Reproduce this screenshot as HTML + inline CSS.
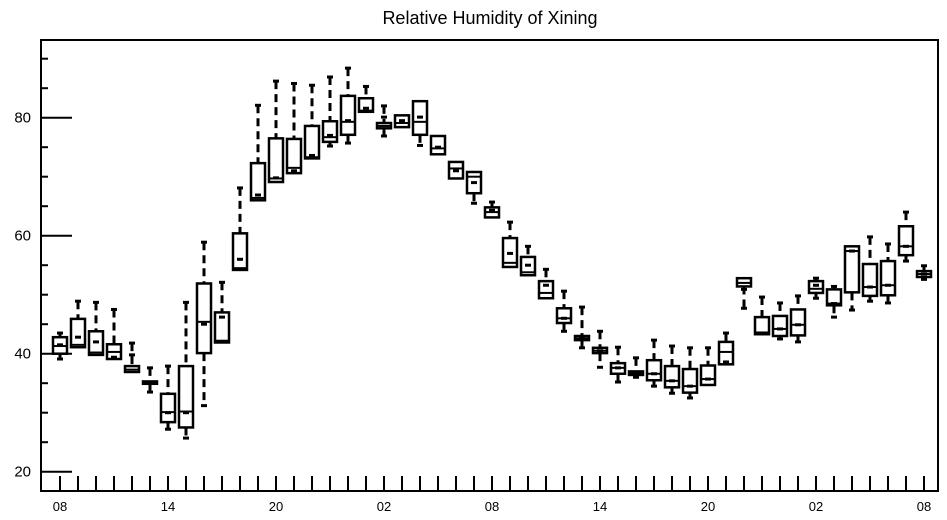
<!DOCTYPE html>
<html><head><meta charset="utf-8"><style>body{margin:0;background:#fff}svg{display:block}</style></head>
<body>
<svg id="chart" width="947" height="520" xmlns="http://www.w3.org/2000/svg" font-family="Liberation Sans, sans-serif">
<text x="490" y="24" text-anchor="middle" font-size="18">Relative Humidity of Xining</text>
<rect x="41" y="40" width="897" height="451" fill="none" stroke="#000" stroke-width="2"/>
<g id="axes"></g><g id="boxes"></g>
</svg>
<script>
const hourLabels=["08","14","20","02","08","14","20","02","08"];
const yTicks=[20,40,60,80];
const lows=[39.1,41.1,39.8,39.1,36.9,33.5,27.2,25.7,31.2,41.9,54.2,66.0,69.1,70.6,73.1,75.2,75.7,81.0,76.9,78.4,75.3,73.8,69.7,65.5,63.1,54.7,53.3,49.4,43.8,41.0,37.7,35.2,36.0,34.5,33.3,32.5,34.7,38.2,47.7,43.3,42.5,42.0,49.4,46.2,47.4,48.9,48.6,55.7,52.6];
const q1s=[40.0,41.1,39.8,39.1,36.9,34.9,28.4,27.5,40.1,41.9,54.2,66.0,69.1,70.6,73.1,75.9,77.1,81.0,78.2,78.4,77.1,73.8,69.7,67.2,63.1,54.7,53.3,49.4,45.2,42.3,40.1,36.6,36.4,35.5,34.3,33.4,34.7,38.2,51.4,43.3,43.0,43.1,50.3,48.2,50.4,49.8,49.9,56.7,53.0];
const medians=[41.3,41.5,40.2,40.3,37.3,35.1,30.1,30.2,45.4,42.2,54.5,66.4,69.7,71.5,73.3,76.7,79.3,81.2,78.6,79.1,79.3,74.8,71.4,70.0,64.0,55.4,53.8,50.3,46.0,42.6,40.5,37.6,36.7,36.6,35.4,34.5,35.7,40.3,52.0,43.6,44.2,44.9,51.0,48.5,57.4,51.3,51.6,58.2,53.5];
const q3s=[42.8,45.9,43.8,41.6,37.9,35.3,33.2,37.9,51.9,47.0,60.4,72.3,76.5,76.4,78.6,79.4,83.7,83.3,79.1,80.4,82.8,76.9,72.5,70.8,64.8,59.6,56.4,52.3,47.7,43.0,41.0,38.4,37.0,38.9,37.9,37.4,38.0,42.0,52.8,46.2,46.4,47.5,52.3,50.9,58.2,55.2,55.7,61.6,54.0];
const highs=[43.5,48.9,48.7,47.5,41.8,37.6,37.9,48.7,58.9,52.1,68.1,82.1,86.2,85.8,85.5,86.9,88.4,85.3,82.0,80.4,82.8,76.9,72.5,70.8,65.7,62.3,58.2,54.3,50.6,47.9,43.8,41.1,39.3,42.3,41.3,41.0,41.0,43.5,52.8,49.6,48.6,49.8,52.8,51.4,58.2,59.8,58.6,64.0,54.9];
const means=[41.5,42.8,42.0,39.4,39.8,35.1,30.0,30.0,45.0,46.2,56.0,66.9,69.8,71.0,73.6,77.0,79.5,81.6,80.1,79.5,80.1,75.0,71.0,69.0,64.3,57.0,55.0,51.6,46.0,42.6,40.5,37.6,36.7,36.6,35.4,34.5,35.7,38.6,50.9,43.5,44.2,44.9,51.6,48.5,57.4,51.3,51.6,58.2,53.5];

const NS="http://www.w3.org/2000/svg";
const X=i=>60+18*i;
const Y=v=>471.7-(v-20)*5.9;
const axes=document.getElementById('axes'), boxes=document.getElementById('boxes');
function mk(parent,tag,attrs){const e=document.createElementNS(NS,tag);for(const k in attrs)e.setAttribute(k,attrs[k]);parent.appendChild(e);return e;}
// y ticks
for(let v=20;v<=90;v+=5){
  const major=yTicks.includes(v);
  const t=mk(axes,'line',{x1:41,x2:major?72:48,y1:Y(v),y2:Y(v),stroke:'#000','stroke-width':2});
  
  
}
yTicks.forEach(v=>{
  const t=mk(axes,'text',{x:31,y:Y(v)+5,'text-anchor':'end','font-size':15});
  t.textContent=v;
  
  
});
// x ticks
for(let i=0;i<lows.length;i++){
  const t=mk(axes,'line',{x1:X(i),x2:X(i),y1:476,y2:491,stroke:'#000','stroke-width':2});
  
  
}
hourLabels.forEach((s,k)=>{
  const t=mk(axes,'text',{x:X(k*6),y:511,'text-anchor':'middle','font-size':13});
  t.textContent=s;
  
  
});
// boxes
for(let i=0;i<lows.length;i++){
  const g=mk(boxes,'g',{});
  
  
  const x=X(i);
  if(highs[i]>q3s[i]+0.2){
    mk(g,'line',{x1:x,x2:x,y1:Y(highs[i]),y2:Y(q3s[i]),stroke:'#000','stroke-width':3,'stroke-dasharray':'8,5'});
    mk(g,'line',{x1:x-3,x2:x+3,y1:Y(highs[i]),y2:Y(highs[i]),stroke:'#000','stroke-width':3});
  }
  if(lows[i]<q1s[i]-0.2){
    mk(g,'line',{x1:x,x2:x,y1:Y(q1s[i]),y2:Y(lows[i]),stroke:'#000','stroke-width':3,'stroke-dasharray':'8,5'});
    mk(g,'line',{x1:x-3,x2:x+3,y1:Y(lows[i]),y2:Y(lows[i]),stroke:'#000','stroke-width':3});
  }
  const top=Y(q3s[i]),bot=Y(q1s[i]);
  mk(g,'rect',{x:x-7,y:top,width:14,height:Math.max(bot-top,1.5),fill:'#fff',stroke:'#000','stroke-width':2.5});
  mk(g,'line',{x1:x-7,x2:x+7,y1:Y(medians[i]),y2:Y(medians[i]),stroke:'#000','stroke-width':2});
  mk(g,'line',{x1:x-3,x2:x+3,y1:Y(means[i]),y2:Y(means[i]),stroke:'#000','stroke-width':3});
}
</script>
</body></html>
